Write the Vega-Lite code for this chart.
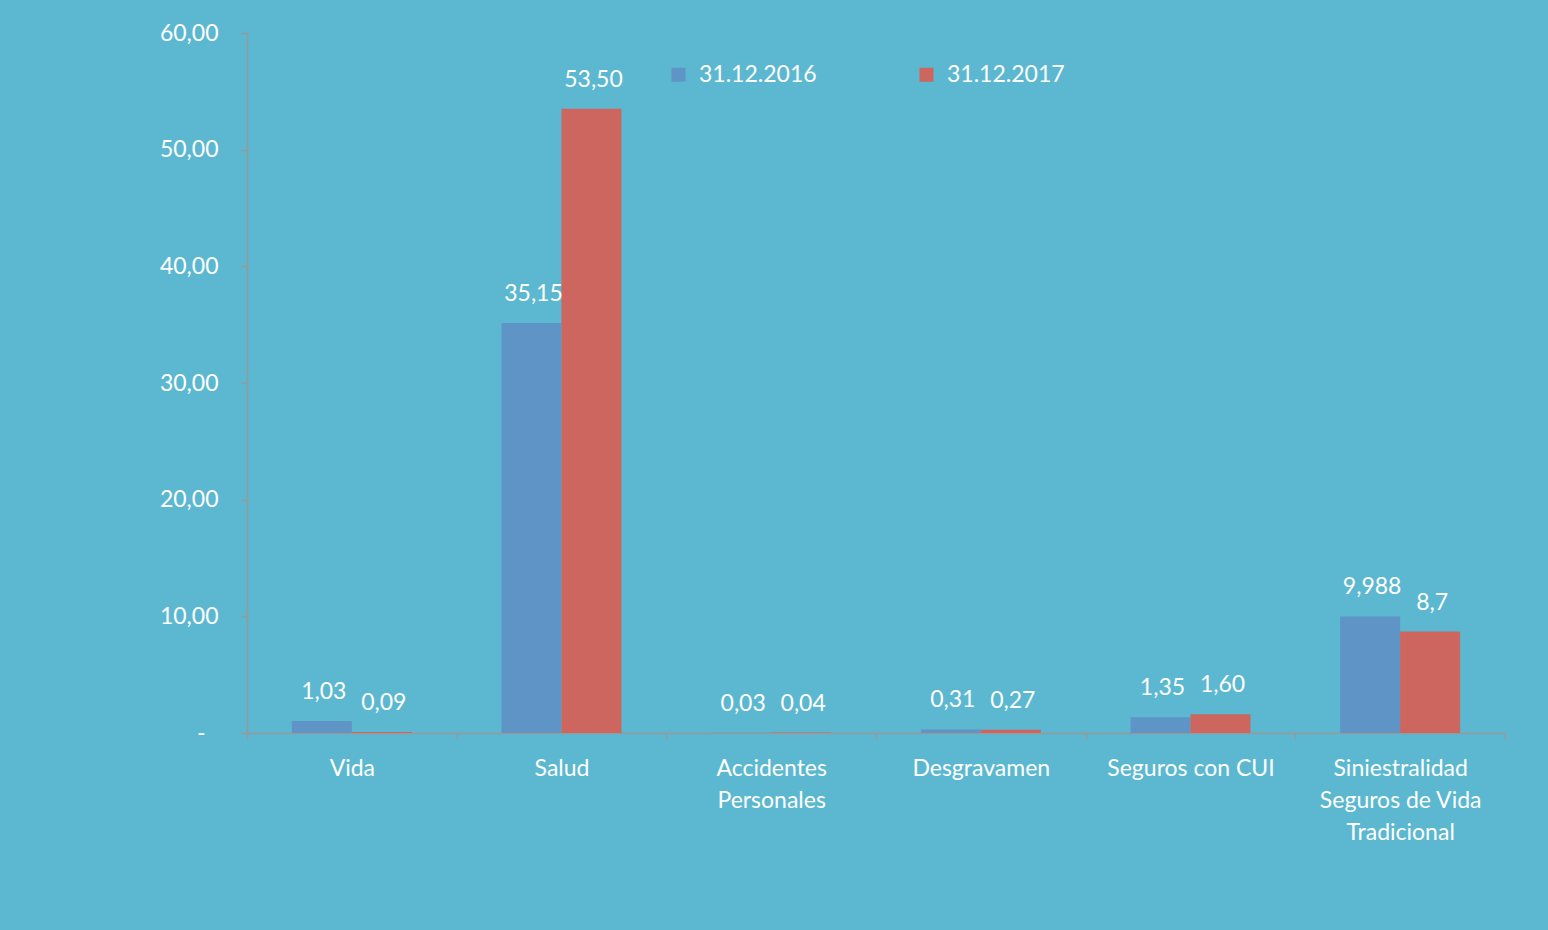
{
  "$schema": "https://vega.github.io/schema/vega-lite/v6.json",
  "width": 1258,
  "height": 700,
  "autosize": {"type": "none"},
  "padding": {"left": 247, "top": 33, "right": 43, "bottom": 197},
  "background": "#5BB8D0",
  "config": {"view": {"stroke": null}, "font": "Lato"},
  "data": {
    "values": [
      {"categoria": "Vida", "fecha": "31.12.2016", "valor": 1.03, "etiqueta": "1,03"},
      {"categoria": "Vida", "fecha": "31.12.2017", "valor": 0.09, "etiqueta": "0,09"},
      {"categoria": "Salud", "fecha": "31.12.2016", "valor": 35.15, "etiqueta": "35,15"},
      {"categoria": "Salud", "fecha": "31.12.2017", "valor": 53.5, "etiqueta": "53,50"},
      {"categoria": "Accidentes Personales", "fecha": "31.12.2016", "valor": 0.03, "etiqueta": "0,03"},
      {"categoria": "Accidentes Personales", "fecha": "31.12.2017", "valor": 0.04, "etiqueta": "0,04"},
      {"categoria": "Desgravamen", "fecha": "31.12.2016", "valor": 0.31, "etiqueta": "0,31"},
      {"categoria": "Desgravamen", "fecha": "31.12.2017", "valor": 0.27, "etiqueta": "0,27"},
      {"categoria": "Seguros con CUI", "fecha": "31.12.2016", "valor": 1.35, "etiqueta": "1,35"},
      {"categoria": "Seguros con CUI", "fecha": "31.12.2017", "valor": 1.6, "etiqueta": "1,60"},
      {"categoria": "Siniestralidad Seguros de Vida Tradicional", "fecha": "31.12.2016", "valor": 9.988, "etiqueta": "9,988"},
      {"categoria": "Siniestralidad Seguros de Vida Tradicional", "fecha": "31.12.2017", "valor": 8.7, "etiqueta": "8,7"}
    ]
  },
  "encoding": {
    "x": {
      "field": "categoria",
      "type": "nominal",
      "sort": ["Vida", "Salud", "Accidentes Personales", "Desgravamen", "Seguros con CUI", "Siniestralidad Seguros de Vida Tradicional"],
      "scale": {"paddingInner": 0, "paddingOuter": 0},
      "axis": {
        "title": null,
        "tickBand": "extent",
        "tickSize": 6,
        "tickColor": "#999999",
        "tickWidth": 1.5,
        "domainColor": "#999999",
        "domainWidth": 1.5,
        "labelColor": "white",
        "labelFontSize": 23,
        "labelPadding": 18,
        "labelAngle": 0,
        "labelLimit": 0,
        "labelLineHeight": 32,
        "labelBaseline": "top",
        "labelExpr": "datum.label == 'Accidentes Personales' ? ['Accidentes', 'Personales'] : datum.label == 'Siniestralidad Seguros de Vida Tradicional' ? ['Siniestralidad', 'Seguros de Vida', 'Tradicional'] : datum.label"
      }
    },
    "xOffset": {
      "field": "fecha",
      "type": "nominal",
      "scale": {"paddingInner": 0, "paddingOuter": 0.747}
    },
    "y": {
      "field": "valor",
      "type": "quantitative",
      "scale": {"domain": [0, 60]},
      "axis": {
        "title": null,
        "values": [0, 10, 20, 30, 40, 50, 60],
        "grid": false,
        "tickSize": 6,
        "tickColor": "#999999",
        "tickWidth": 1.5,
        "domainColor": "#999999",
        "domainWidth": 1.5,
        "labelColor": "white",
        "labelFontSize": 23,
        "labelPadding": {"condition": {"test": "datum.value == 0", "value": 36}, "value": 23},
        "labelExpr": "datum.value == 0 ? '-' : replace(format(datum.value, '.2f'), '.', ',')"
      }
    }
  },
  "layer": [
    {
      "mark": {"type": "bar"},
      "encoding": {
        "color": {
          "field": "fecha",
          "type": "nominal",
          "scale": {"range": ["#5F94C7", "#CD665F"]},
          "legend": {
            "title": null,
            "orient": "none",
            "legendX": 420,
            "legendY": 30,
            "direction": "horizontal",
            "symbolType": "square",
            "symbolSize": 196,
            "symbolStrokeWidth": 0,
            "labelColor": "white",
            "labelFontSize": 23,
            "labelOffset": 9,
            "columnPadding": 98,
            "padding": 0
          }
        }
      }
    },
    {
      "mark": {"type": "text", "baseline": "bottom", "dy": -17, "dx": 2, "color": "white", "fontSize": 23},
      "encoding": {
        "text": {"field": "etiqueta"}
      }
    }
  ]
}
